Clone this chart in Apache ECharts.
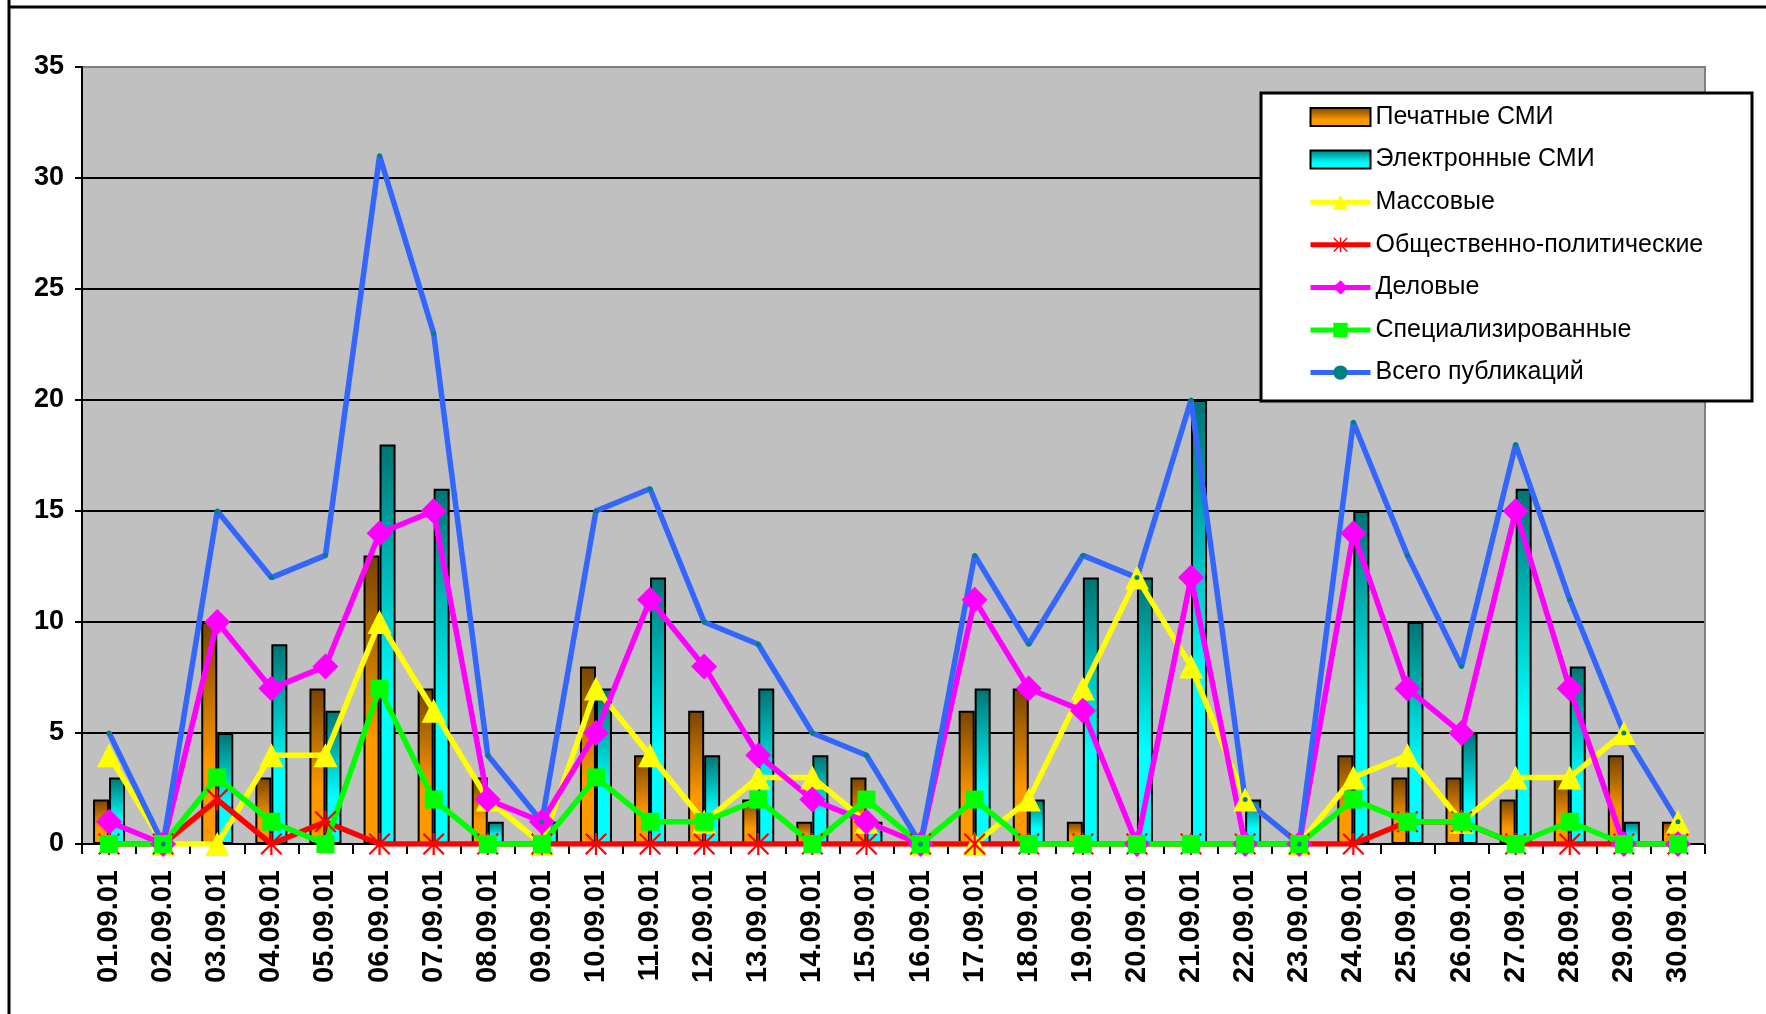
<!DOCTYPE html>
<html>
<head>
<meta charset="utf-8">
<title>Публикации за сентябрь 2001</title>
<script src="https://cdn.jsdelivr.net/npm/echarts@6/dist/echarts.min.js"></script>
<style>
  html, body { margin: 0; padding: 0; background: #fff; }
  #chart { width: 1766px; height: 1014px; }
</style>
</head>
<body>
<div id="chart"></div>
<script>
// даты
const days = ['01.09.01', '02.09.01', '03.09.01', '04.09.01', '05.09.01', '06.09.01', '07.09.01', '08.09.01', '09.09.01', '10.09.01',
  '11.09.01', '12.09.01', '13.09.01', '14.09.01', '15.09.01', '16.09.01', '17.09.01', '18.09.01', '19.09.01', '20.09.01',
  '21.09.01', '22.09.01', '23.09.01', '24.09.01', '25.09.01', '26.09.01', '27.09.01', '28.09.01', '29.09.01', '30.09.01'];

// столбцы
const printMedia = [2, 0, 10, 3, 7, 13, 7, 3, 0, 8, 4, 6, 2, 1, 3, 0, 6, 7, 1, 0, 0, 0, 0, 4, 3, 3, 2, 3, 4, 1];
const onlineMedia = [3, 0, 5, 9, 6, 18, 16, 1, 1, 7, 12, 4, 7, 4, 1, 0, 7, 2, 12, 12, 20, 2, 0, 15, 10, 5, 16, 8, 1, 0];

// линии
const massMedia = [4, 0, 0, 4, 4, 10, 6, 2, 0, 7, 4, 1, 3, 3, 1, 0, 0, 2, 7, 12, 8, 2, 0, 3, 4, 1, 3, 3, 5, 1];
const political = [0, 0, 2, 0, 1, 0, 0, 0, 0, 0, 0, 0, 0, 0, 0, 0, 0, 0, 0, 0, 0, 0, 0, 0, 1, 1, 0, 0, 0, 0];
const business = [1, 0, 10, 7, 8, 14, 15, 2, 1, 5, 11, 8, 4, 2, 1, 0, 11, 7, 6, 0, 12, 0, 0, 14, 7, 5, 15, 7, 0, 0];
const special = [0, 0, 3, 1, 0, 7, 2, 0, 0, 3, 1, 1, 2, 0, 2, 0, 2, 0, 0, 0, 0, 0, 0, 2, 1, 1, 0, 1, 0, 0];
const total = [5, 0, 15, 12, 13, 31, 23, 4, 1, 15, 16, 10, 9, 5, 4, 0, 13, 9, 13, 12, 20, 2, 0, 19, 13, 8, 18, 11, 5, 1];

// шкала
const yTicks = [0, 5, 10, 15, 20, 25, 30, 35];

const FONT = '"Liberation Sans", Arial, sans-serif';
const ASTERISK = 'path://M9 0L11 0L11 20L9 20Z M0 1.4L1.4 0L20 18.6L18.6 20Z M18.6 0L20 1.4L1.4 20L0 18.6Z';

const chart = echarts.init(document.getElementById('chart'));

function grad(top, mid, bottom) {
  return new echarts.graphic.LinearGradient(0, 0, 0, 1, [
    {offset: 0, color: top},
    {offset: 0.65, color: mid},
    {offset: 1, color: bottom}
  ]);
}

function lineSeries(name, data, color, symbol, size) {
  return {
    name: name,
    type: 'line',
    data: data,
    symbol: symbol,
    symbolSize: size,
    showAllSymbol: true,
    lineStyle: {color: color, width: 5.5},
    itemStyle: {color: color},
    emphasis: {disabled: true}
  };
}

const option = {
  backgroundColor: '#fff',
  animation: false,
  grid: {
    left: 82, right: 61, top: 67, bottom: 170,
    show: true, backgroundColor: '#c0c0c0', borderWidth: 0
  },
  legend: {
    orient: 'vertical',
    left: 1308, top: 102,
    itemWidth: 60, itemHeight: 18, itemGap: 12.6,
    padding: 0,
    z: 10,
    lineStyle: {width: 5},
    textStyle: {fontFamily: FONT, fontSize: 25, color: '#000', lineHeight: 30},
    data: [
      {name: 'Печатные СМИ', icon: 'rect'},
      {name: 'Электронные СМИ', icon: 'rect'},
      'Массовые', 'Общественно-политические', 'Деловые', 'Специализированные', 'Всего публикаций'
    ]
  },
  xAxis: {
    type: 'category',
    data: days,
    boundaryGap: true,
    axisLine: {lineStyle: {color: '#000', width: 2}},
    axisTick: {show: true, length: 10, lineStyle: {color: '#000', width: 2}},
    axisLabel: {
      rotate: 90, margin: 26, interval: 0,
      fontFamily: FONT, fontWeight: 'bold', fontSize: 29, color: '#000'
    },
    splitLine: {show: false}
  },
  yAxis: {
    type: 'value',
    min: yTicks[0], max: yTicks[yTicks.length - 1], interval: 5,
    axisLine: {show: true, lineStyle: {color: '#000', width: 2}},
    axisTick: {show: true, length: 7, lineStyle: {color: '#000', width: 2}},
    axisLabel: {margin: 18, fontFamily: FONT, fontWeight: 'bold', fontSize: 27, color: '#000'},
    splitLine: {
      show: true,
      lineStyle: {color: ['#000', '#000', '#000', '#000', '#000', '#000', '#000', '#808080'], width: 2}
    }
  },
  series: [
    {
      name: 'Печатные СМИ', type: 'bar', data: printMedia,
      barWidth: 16, barGap: '0%',
      itemStyle: {color: grad('#774400', '#ff9900', '#ff9900'), borderColor: '#000', borderWidth: 2},
      emphasis: {disabled: true}
    },
    {
      name: 'Электронные СМИ', type: 'bar', data: onlineMedia,
      barWidth: 16, barGap: '0%',
      itemStyle: {color: grad('#007373', '#00ffff', '#00ffff'), borderColor: '#000', borderWidth: 2},
      emphasis: {disabled: true}
    },
    lineSeries('Массовые', massMedia, '#ffff00', 'triangle', 24),
    lineSeries('Общественно-политические', political, '#ff0000', ASTERISK, 22),
    lineSeries('Деловые', business, '#ff00ff', 'diamond', 26),
    lineSeries('Специализированные', special, '#00ff00', 'rect', 18),
    {
      name: 'Всего публикаций', type: 'line', data: total,
      symbol: 'circle', symbolSize: 5, showAllSymbol: true,
      lineStyle: {color: '#3366ff', width: 5.5},
      itemStyle: {color: '#008080'},
      emphasis: {disabled: true}
    }
  ],
  graphic: [
    // рамка рисунка
    {type: 'line', z: 20, shape: {x1: 9, y1: 0, x2: 9, y2: 1014}, style: {stroke: '#000', lineWidth: 3}},
    {type: 'line', z: 20, shape: {x1: 8, y1: 7, x2: 1766, y2: 7}, style: {stroke: '#000', lineWidth: 3}},
    // серая рамка области построения
    {type: 'polyline', z: 1, shape: {points: [[83, 67], [1705, 67], [1705, 844]]}, style: {stroke: '#808080', lineWidth: 2, fill: null}},
    // фон легенды
    {type: 'rect', z: 5, shape: {x: 1261, y: 93, width: 491, height: 308}, style: {fill: '#fff', stroke: '#000', lineWidth: 3}}
  ]
};

chart.setOption(option);
</script>
</body>
</html>
